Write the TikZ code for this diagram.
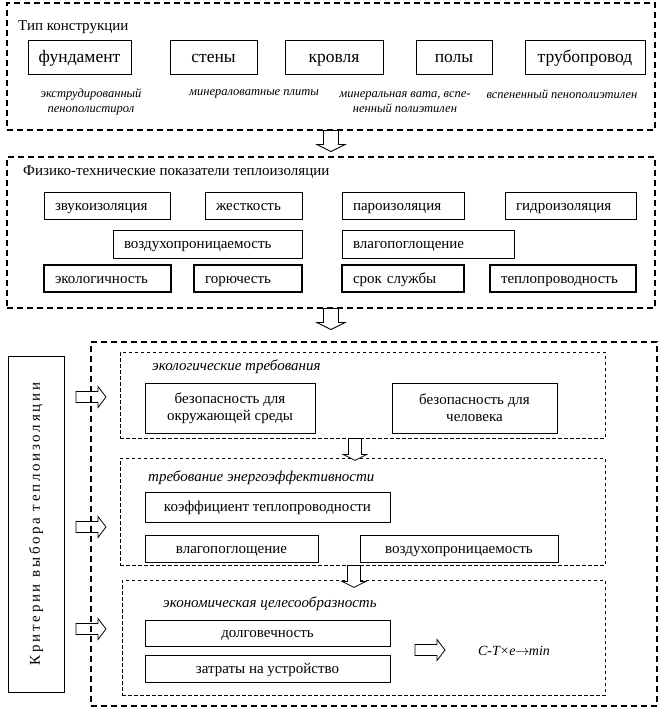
\documentclass[tikz,border=0pt]{standalone}
\usepackage{fontspec}
\setmainfont{Liberation Serif}
\usetikzlibrary{calc}
\begin{document}
\begin{tikzpicture}[x=1pt,y=-1pt,
  sec/.style={draw, line width=1.1pt, dash pattern=on 6pt off 4pt, inner sep=0pt},
  isec/.style={draw, line width=0.8pt, dash pattern=on 3.5pt off 2.5pt, inner sep=0pt},
  bigbox/.style={draw, line width=0.8pt, inner sep=0pt, text height=14pt, text depth=3.5pt, font=\fontsize{17.5}{20}\selectfont},
  note/.style={inner sep=0pt, align=center, font=\fontsize{12.5}{15}\selectfont\itshape},
  ttl/.style={inner sep=0pt, anchor=west, font=\fontsize{15}{18}\selectfont},
  ittl/.style={inner sep=0pt, anchor=west, font=\fontsize{15}{18}\selectfont\itshape},
  lbox/.style={draw, line width=0.8pt, inner xsep=11pt, inner ysep=0pt, align=left, text height=12pt, text depth=3pt, font=\fontsize{15}{18}\selectfont},
  tbox/.style={lbox, line width=1.6pt},
  cbox/.style={draw, line width=0.8pt, inner sep=0pt, align=center, font=\fontsize{15}{17}\selectfont},
  sbox/.style={cbox, text height=12pt, text depth=3pt},
  darr/.pic={\draw[line width=0.8pt, fill=white] (-7.5,0) -- (-7.5,14) -- (-14,14) -- (0,21) -- (14,14) -- (7.5,14) -- (7.5,0) -- cycle;},
  sdarr/.pic={\draw[line width=0.8pt, fill=white] (-6.5,0) -- (-6.5,16) -- (-12,16) -- (0,22) -- (12,16) -- (6.5,16) -- (6.5,0) -- cycle;},
  rarr/.pic={\draw[line width=0.8pt, fill=white] (0,-5.5) -- (22,-5.5) -- (22,-10.5) -- (30,0) -- (22,10.5) -- (22,5.5) -- (0,5.5) -- cycle;}
]
\useasboundingbox (0,0) rectangle (661,710);

% ---------- section 1 ----------
\node[sec, minimum width=648pt, minimum height=127pt] (s1) at (331,66.5) {};
\node[ttl] (t1) at (18,27) {Тип конструкции};
\node[bigbox, minimum width=103pt, minimum height=34pt] (b11) at (79.5,57) {фундамент};
\node[bigbox, minimum width=87pt, minimum height=34pt] (b12) at (213.5,57) {стены};
\node[bigbox, minimum width=98pt, minimum height=34pt] (b13) at (334,57) {кровля};
\node[bigbox, minimum width=76pt, minimum height=34pt] (b14) at (454,57) {полы};
\node[bigbox, minimum width=120pt, minimum height=34pt] (b15) at (585,57) {трубопровод};
\node[note] (n1) at (91,102) {экструдированный\\пенополистирол};
\node[note, anchor=north] (n2) at (254,89) {минераловатные плиты};
\node[note] (n3) at (405,102) {минеральная вата, вспе-\\ненный полиэтилен};
\node[note, anchor=north] (n4) at (562,89) {вспененный пенополиэтилен};

% ---------- section 2 ----------
\node[sec, minimum width=648pt, minimum height=151pt] (s2) at (331,232.5) {};
\node[ttl] (t2) at (23,172) {Физико-технические показатели теплоизоляции};
\node[lbox, text width=104pt, minimum height=27pt] (p1) at (107,205.5) {звукоизоляция};
\node[lbox, text width=75pt, minimum height=27pt] (p2) at (253.5,205.5) {жесткость};
\node[lbox, text width=100pt, minimum height=27pt] (p3) at (403,205.5) {пароизоляция};
\node[lbox, text width=109pt, minimum height=27pt] (p4) at (570.5,205.5) {гидроизоляция};
\node[lbox, text width=167pt, minimum height=28pt] (p5) at (207.5,244) {воздухопроницаемость};
\node[lbox, text width=150pt, minimum height=28pt] (p6) at (428,244) {влагопоглощение};
\node[tbox, text width=105pt, minimum height=27pt] (p7) at (107.5,278.5) {экологичность};
\node[tbox, text width=86pt, minimum height=27pt] (p8) at (248,278.5) {горючесть};
\node[tbox, text width=100pt, minimum height=27pt] (p9) at (403,278.5) {срок службы};
\node[tbox, text width=124pt, minimum height=27pt] (p10) at (563,278.5) {теплопроводность};

% ---------- section 3 ----------
\pic at (76,397) {rarr};
\pic at (76,527) {rarr};
\pic at (76,629) {rarr};
\node[sec, minimum width=566pt, minimum height=364pt] (s3) at (374,524) {};
\node[draw, line width=0.8pt, inner sep=0pt, rotate=90, minimum width=336pt, minimum height=56pt,
      font=\fontsize{15}{18}\selectfont\addfontfeature{LetterSpace=18}] (lb) at (36,524) {Критерии выбора теплоизоляции};

\node[isec, minimum width=485pt, minimum height=86pt] (i1) at (362.5,395) {};
\node[ittl] (it1) at (152,367) {экологические требования};
\node[cbox, minimum width=170pt, minimum height=50pt] (e1) at (230,408) {безопасность для\\окружающей среды};
\node[cbox, minimum width=165pt, minimum height=50pt] (e2) at (474.5,408) {безопасность для\\человека};

\node[isec, minimum width=485pt, minimum height=107pt] (i2) at (362.5,511.5) {};
\node[ittl] (it2) at (148,478) {требование энергоэффективности};
\node[sbox, minimum width=245pt, minimum height=30pt] (f1) at (267.5,507) {коэффициент теплопроводности};
\node[sbox, minimum width=173pt, minimum height=27pt] (f2) at (231.5,548.5) {влагопоглощение};
\node[sbox, minimum width=198pt, minimum height=27pt] (f3) at (459,548.5) {воздухопроницаемость};

\node[isec, minimum width=483pt, minimum height=115pt] (i3) at (363.5,637.5) {};
\node[ittl] (it3) at (163,604) {экономическая целесообразность};
\node[sbox, minimum width=245pt, minimum height=26pt] (g1) at (267.5,633) {долговечность};
\node[sbox, minimum width=245pt, minimum height=27pt] (g2) at (267.5,668.5) {затраты на устройство};
\pic at (415,650) {rarr};
\node[inner sep=0pt, font=\fontsize{14}{16}\selectfont\itshape] (fm) at (514,651) {C-T×e\kern-0.5pt$\rightarrow$\kern-0.5pt min};

% ---------- arrows between blocks ----------
\pic at (s1.south) {darr};
\pic at (s2.south) {darr};
\pic at ([xshift=-7.5pt]i1.south) {sdarr};
\pic at ([xshift=-8.5pt]i2.south) {sdarr};
\end{tikzpicture}
\end{document}
